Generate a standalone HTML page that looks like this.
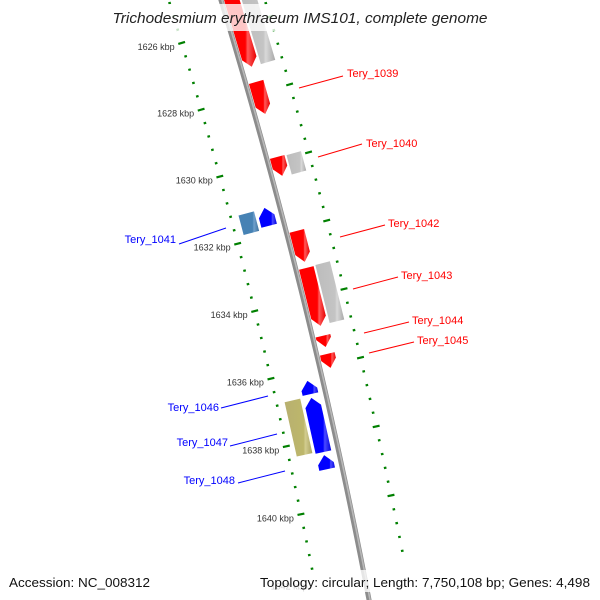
<!DOCTYPE html>
<html><head><meta charset="utf-8"><style>
html,body{margin:0;padding:0;background:#fff}
svg{display:block;font-family:"Liberation Sans","DejaVu Sans",sans-serif}
</style></head><body>
<svg id="map" width="600" height="600" viewBox="0 0 600 600" xmlns="http://www.w3.org/2000/svg">
<defs>
<linearGradient id="gRed" x1="0" x2="1" y1="0" y2="0"><stop offset="0" stop-color="#ff0000"/><stop offset="0.68" stop-color="#ff0000"/><stop offset="0.75" stop-color="#ff5a5a"/><stop offset="1" stop-color="#e80000"/></linearGradient>
<linearGradient id="gGrey" x1="0" x2="1" y1="0" y2="0"><stop offset="0" stop-color="#bcbcbc"/><stop offset="0.68" stop-color="#c4c4c4"/><stop offset="0.75" stop-color="#d8d8d8"/><stop offset="1" stop-color="#a8a8a8"/></linearGradient>
<linearGradient id="gBlue" x1="0" x2="1" y1="0" y2="0"><stop offset="0" stop-color="#0000ff"/><stop offset="0.68" stop-color="#0000ff"/><stop offset="0.75" stop-color="#4a4aff"/><stop offset="1" stop-color="#0000e0"/></linearGradient>
<linearGradient id="gSteel" x1="0" x2="1" y1="0" y2="0"><stop offset="0" stop-color="#4682b4"/><stop offset="0.68" stop-color="#4682b4"/><stop offset="0.75" stop-color="#6fa0cc"/><stop offset="1" stop-color="#3a6f9c"/></linearGradient>
<linearGradient id="gOlive" x1="0" x2="1" y1="0" y2="0"><stop offset="0" stop-color="#b8b070"/><stop offset="0.68" stop-color="#bdb76b"/><stop offset="0.75" stop-color="#d2cd90"/><stop offset="1" stop-color="#a8a260"/></linearGradient>
</defs>
<g id="ticks"></g>
<path id="backbone" fill="none" stroke="#8c8c8c" stroke-width="5"/>
<path id="backbone2" fill="none" stroke="#b8b8b8" stroke-width="1.6"/>
<g id="genes"></g>
<g id="labels"></g>
<rect x="108" y="4" width="385" height="27" fill="#fff" opacity="0.78"/>
<text x="300" y="23" text-anchor="middle" font-style="italic" font-size="14.5" fill="#222" textLength="375" lengthAdjust="spacingAndGlyphs">Trichodesmium erythraeum IMS101, complete genome</text>
<rect x="4" y="570" width="152" height="22" fill="#fff" opacity="0.78"/>
<text x="9" y="587" font-size="12.5" fill="#111" textLength="141" lengthAdjust="spacingAndGlyphs">Accession: NC_008312</text>
<rect x="255" y="570" width="340" height="22" fill="#fff" opacity="0.78"/>
<text x="590" y="587" text-anchor="end" font-size="12.5" fill="#111" textLength="330" lengthAdjust="spacingAndGlyphs">Topology: circular; Length: 7,750,108 bp; Genes: 4,498</text>
</svg>
<script>
// circle geometry (layout)
var CX=-5328, CY=1688, R=5800;
function ang(k){return (-16.624+(k-1626)*0.3461)*Math.PI/180;}
function pt(k,r){var a=ang(k);return [CX+r*Math.cos(a), CY+r*Math.sin(a)];}

// data
var tickMajors=[1624,1626,1628,1630,1632,1634,1636,1638,1640,1642];
var tickLabels=["1624 kbp","1626 kbp","1628 kbp","1630 kbp","1632 kbp","1634 kbp","1636 kbp","1638 kbp","1640 kbp","1642 kbp"];
var minorStep=0.4;
var geneNames=["","Tery_1039","","Tery_1040","","Tery_1042","Tery_1043","","Tery_1044","Tery_1045","Tery_1041","","Tery_1046","Tery_1047","","Tery_1048"];
var geneStarts=[1624.9,1627.67,1624.9,1629.89,1629.91,1632.07,1633.16,1633.14,1635.15,1635.68,1631.20,1631.22,1636.30,1636.80,1636.75,1638.48];
var geneEnds=[1627.22,1628.62,1627.22,1630.45,1630.48,1632.98,1634.86,1634.84,1635.48,1636.09,1631.73,1631.80,1636.69,1638.39,1638.35,1638.89];
var geneStrand=[1,1,1,1,1,1,1,1,1,1,-1,-1,-1,-1,-1,-1];
var geneLane=[0,0,1,0,1,0,0,1,0,0,0,1,0,0,1,0];
var geneColor=["gRed","gRed","gGrey","gRed","gGrey","gRed","gRed","gGrey","gRed","gRed","gBlue","gSteel","gBlue","gBlue","gOlive","gBlue"];
var geneArrow=[1,1,0,1,0,1,1,0,1,1,1,0,1,1,0,1];
var labelX=[0,347,0,366,0,388,401,0,412,417,176,0,219,228,0,235];
var labelY=[0,77,0,147,0,227,279,0,324,344,243,0,411,446,0,484];
var lineFrom=[[0,0],[299,88],[0,0],[318,157],[0,0],[340,237],[353,289],[0,0],[364,333],[369,353],[179,244],[0,0],[221,408],[230,446],[0,0],[238,483]];
var lineTo=[[0,0],[343,76],[0,0],[362,144],[0,0],[385,225],[398,277],[0,0],[409,322],[414,342],[226,228],[0,0],[268,396],[277,434],[0,0],[285,471]];

var NS="http://www.w3.org/2000/svg";
function mk(t,p){var e=document.createElementNS(NS,t);p.appendChild(e);return e;}

// backbone
var d="";for(var k=1623;k<=1643.01;k+=0.25){var p=pt(k,R);d+=(k==1623?"M":"L")+p[0].toFixed(2)+","+p[1].toFixed(2);}
document.getElementById("backbone").setAttribute("d",d);
var d2="";for(var k=1623;k<=1643.01;k+=0.25){var p=pt(k,R+1);d2+=(k==1623?"M":"L")+p[0].toFixed(2)+","+p[1].toFixed(2);}
document.getElementById("backbone2").setAttribute("d",d2);

// ticks
var tg=document.getElementById("ticks");
var rings=[5750,5842];
for(var ri=0;ri<rings.length;ri++){
  var rr=rings[ri];
  for(var mi=0;mi<tickMajors.length-1;mi++){
    for(var j=0;j<5;j++){
      var kk=tickMajors[mi]+j*minorStep;
      var len=(j==0)?3.5:1.3;
      var a=pt(kk,rr-len),b=pt(kk,rr+len);
      var ln=mk("line",tg);
      
      
      ln.setAttribute("x1",a[0]);ln.setAttribute("y1",a[1]);ln.setAttribute("x2",b[0]);ln.setAttribute("y2",b[1]);
      ln.setAttribute("stroke","#008000");ln.setAttribute("stroke-width",j==0?2.2:2.2);
    }
  }
}
for(var i=0;i<tickMajors.length;i++){
  var p=pt(tickMajors[i],5750);
  var t=mk("text",tg);
  
  
  t.setAttribute("x",p[0]-7);t.setAttribute("y",p[1]+7);
  t.setAttribute("text-anchor","end");t.setAttribute("font-size","9");t.setAttribute("fill","#333");
  t.textContent=tickLabels[i];
}

// genes
var gg=document.getElementById("genes");
var laneR=[[[5803,5818],[5820,5835]],[[5777,5793],[5758,5774]]];
for(var i=0;i<geneStarts.length;i++){
  var s=geneStrand[i]>0?0:1;
  var r1=laneR[s][geneLane[i]][0], r2=laneR[s][geneLane[i]][1], rm=(r1+r2)/2;
  var k1=geneStarts[i],k2=geneEnds[i],head=0.25;
  var pts=[];
  if(!geneArrow[i]){pts=[pt(k1,r1),pt(k2,r1),pt(k2,r2),pt(k1,r2)];}
  else if(geneStrand[i]>0){var kb=Math.max(k1,k2-head);pts=[pt(k1,r1),pt(kb,r1),pt(k2,rm),pt(kb,r2),pt(k1,r2)];}
  else {var kb=Math.min(k2,k1+head);pts=[pt(k1,rm),pt(kb,r1),pt(k2,r1),pt(k2,r2),pt(kb,r2)];}
  var pg=mk("polygon",gg);
  
  
  pg.setAttribute("points",pts.map(function(q){return q[0].toFixed(2)+","+q[1].toFixed(2);}).join(" "));
  pg.setAttribute("fill","url(#"+geneColor[i]+")");
}

// labels
var lg=document.getElementById("labels");
for(var i=0;i<geneNames.length;i++){
  if(!geneNames[i])continue;
  var col=geneStrand[i]>0?"#ff0000":"#0000ff";
  var l=mk("line",lg);
  
  
  l.setAttribute("x1",lineFrom[i][0]);l.setAttribute("y1",lineFrom[i][1]);l.setAttribute("x2",lineTo[i][0]);l.setAttribute("y2",lineTo[i][1]);
  l.setAttribute("stroke",col);l.setAttribute("stroke-width","1");
  var t=mk("text",lg);
  
  
  t.setAttribute("x",labelX[i]);t.setAttribute("y",labelY[i]);
  t.setAttribute("font-size","11");t.setAttribute("fill",col);
  if(geneStrand[i]<0)t.setAttribute("text-anchor","end");
  t.textContent=geneNames[i];
}
</script>
</body></html>
